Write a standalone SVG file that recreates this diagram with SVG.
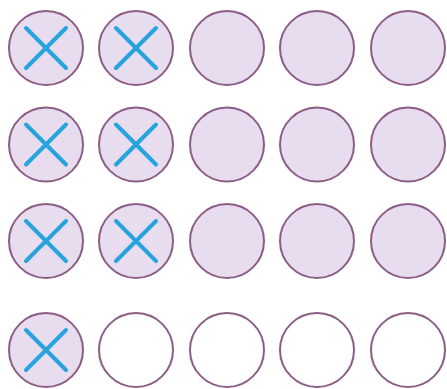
<svg xmlns="http://www.w3.org/2000/svg" width="447" height="389" viewBox="0 0 447 389">
<defs>
<style>
.c{fill:#e7ddef;stroke:#8c5e86;stroke-width:2}
.e{fill:#ffffff;stroke:#8c5e86;stroke-width:2}
.x{stroke:#27a4dc;stroke-width:4;stroke-linecap:round;fill:none}
</style>
<symbol id="X" overflow="visible"><path class="x" d="M-20,-20L20,20M20,-20L-20,20"/></symbol>
</defs>
<rect width="447" height="389" fill="#ffffff"/>
<g id="r1c1"><circle class="c" cx="46" cy="48" r="37"/><use href="#X" x="46" y="48"/></g>
<g id="r1c2"><circle class="c" cx="136" cy="48" r="37"/><use href="#X" x="136" y="48"/></g>
<g id="r1c3"><circle class="c" cx="227" cy="48" r="37"/></g>
<g id="r1c4"><circle class="c" cx="317" cy="48" r="37"/></g>
<g id="r1c5"><circle class="c" cx="408" cy="48" r="37"/></g>
<g id="r2c1"><circle class="c" cx="46" cy="144.5" r="37"/><use href="#X" x="46" y="144.5"/></g>
<g id="r2c2"><circle class="c" cx="136" cy="144.5" r="37"/><use href="#X" x="136" y="144.5"/></g>
<g id="r2c3"><circle class="c" cx="227" cy="144.5" r="37"/></g>
<g id="r2c4"><circle class="c" cx="317" cy="144.5" r="37"/></g>
<g id="r2c5"><circle class="c" cx="408" cy="144.5" r="37"/></g>
<g id="r3c1"><circle class="c" cx="46" cy="241" r="37"/><use href="#X" x="46" y="241"/></g>
<g id="r3c2"><circle class="c" cx="136" cy="241" r="37"/><use href="#X" x="136" y="241"/></g>
<g id="r3c3"><circle class="c" cx="227" cy="241" r="37"/></g>
<g id="r3c4"><circle class="c" cx="317" cy="241" r="37"/></g>
<g id="r3c5"><circle class="c" cx="408" cy="241" r="37"/></g>
<g id="r4c1"><circle class="c" cx="46" cy="350" r="37"/><use href="#X" x="46" y="350"/></g>
<g id="r4c2"><circle class="e" cx="136" cy="350" r="37"/></g>
<g id="r4c3"><circle class="e" cx="227" cy="350" r="37"/></g>
<g id="r4c4"><circle class="e" cx="317" cy="350" r="37"/></g>
<g id="r4c5"><circle class="e" cx="408" cy="350" r="37"/></g>
<g id="connectors"/>
</svg>
